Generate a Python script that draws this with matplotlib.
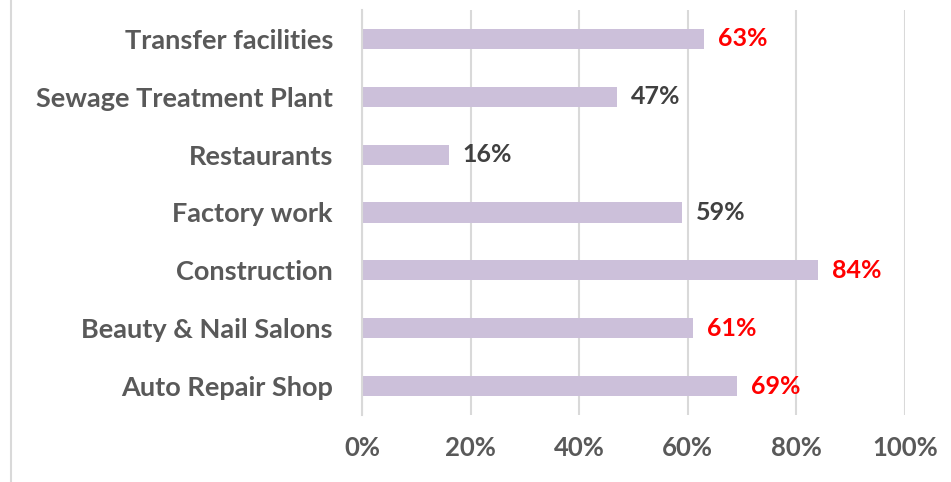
import numpy as np
import matplotlib
matplotlib.use('Agg')
import matplotlib.pyplot as plt
from matplotlib.lines import Line2D

# data, bottom to top as drawn
categories = ['Auto Repair Shop', 'Beauty & Nail Salons', 'Construction', 'Factory work',
              'Restaurants', 'Sewage Treatment Plant', 'Transfer facilities']
values = [69, 61, 84, 59, 16, 47, 63]
highlight = [True, True, True, False, False, False, True]
xticks = [0, 20, 40, 60, 80, 100]

plt.rcParams['font.family'] = ['Lato', 'DejaVu Sans']

fig = plt.figure(figsize=(9.51, 4.82), dpi=100)
ax = fig.add_axes([0.3807, 0.139, 0.5709, 0.8403])

y = np.arange(len(categories))
ax.barh(y, values, height=0.35, color='#CCC0DA', zorder=2)

for yi, v, hl in zip(y, values, highlight):
    ax.annotate('%d%%' % v, xy=(v, yi), xytext=(10, 0), textcoords='offset points',
                va='center', ha='left', fontsize=18, fontweight='bold',
                color='#FF0000' if hl else '#404040')

ax.set_xlim(0, 100)
ax.set_ylim(-0.5, len(categories) - 0.5)
ax.set_xticks(xticks)
ax.set_xticklabels(['%d%%' % t for t in xticks])
ax.set_yticks(y)
ax.set_yticklabels(categories)
ax.grid(axis='x', color='#D9D9D9', linewidth=1.5, zorder=0)
ax.set_axisbelow(True)

for s in ['top', 'right', 'bottom']:
    ax.spines[s].set_visible(False)
ax.spines['left'].set_color('#D9D9D9')
ax.spines['left'].set_linewidth(1.5)

ax.tick_params(axis='both', length=0, labelcolor='#595959')
ax.tick_params(axis='x', pad=15, labelsize=18.5)
ax.tick_params(axis='y', pad=21, labelsize=19.5)
for lab in ax.get_xticklabels() + ax.get_yticklabels():
    lab.set_fontweight('bold')

# frame edge on the left of the chart
fig.add_artist(Line2D([11 / 951, 11 / 951], [0, 1], color='#D9D9D9', linewidth=1.5))

fig.savefig('out.png', dpi=100)
